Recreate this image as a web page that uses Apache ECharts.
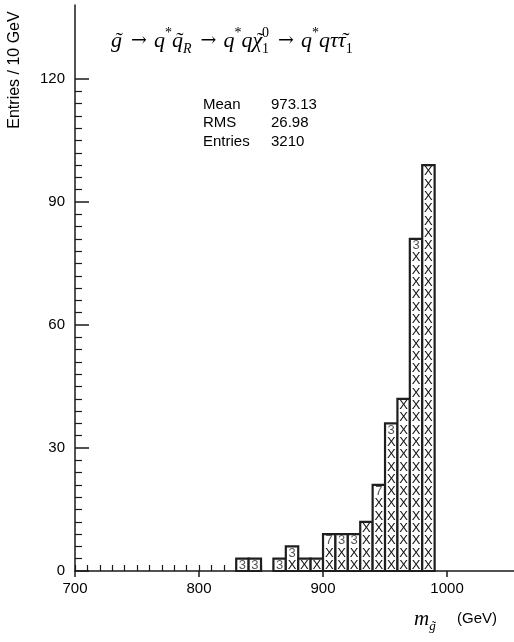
<!DOCTYPE html>
<html><head><meta charset="utf-8">
<script src="https://cdn.jsdelivr.net/npm/echarts@6/dist/echarts.min.js"></script>
<style>html,body{margin:0;padding:0;background:#fff}#c{width:514px;height:642px}</style>
</head><body><div id="c"></div>
<script>
// ---- data ----
const binStarts = [830, 840, 860, 870, 880, 890, 900, 910, 920, 930, 940, 950, 960, 970, 980];
const binWidth = 10;
const counts = [3, 3, 3, 6, 3, 3, 9, 9, 9, 12, 21, 36, 42, 81, 99];
const topMarks = ['3', '3', '3', '3', 'X', 'X', '7', '3', '3', 'X', '7', '3', 'X', '3', 'X'];
const cellUnit = 3;
const xMin = 700, xMax = 1054, xMajor = 100, xMinor = 10, xMinorEnd = 990;
const yMax = 120, yMajor = 30;
const statNames = ['Mean', 'RMS', 'Entries'];
const statValues = ['973.13', '26.98', '3210'];

// ---- layout ----
const W = 514, H = 642;
const gLeft = 75, gBottom = 71, gTopAxis = 5, gTopScale = 79;
const plotW = W - gLeft;
const minorRight = plotW * (xMax - xMinorEnd) / (xMax - xMin);
const SANS = 'Liberation Sans, Arial, sans-serif';
const SERIF = 'Liberation Serif, DejaVu Serif, serif';
const INK = '#1a1a1a';

const chart = echarts.init(document.getElementById('c'), null, {renderer: 'canvas'});

const data = binStarts.map((s, i) => [s, counts[i]]);

const statGraphics = [];
statNames.forEach((n, i) => {
  const y = 104.5 + i * 18.7;
  statGraphics.push({type: 'text', x: 203, y: y, style: {text: n, font: '15px ' + SANS, fill: '#000', verticalAlign: 'middle', align: 'left'}});
  statGraphics.push({type: 'text', x: 271, y: y, style: {text: statValues[i], font: '15px ' + SANS, fill: '#000', verticalAlign: 'middle', align: 'left'}});
});

const C = '#222';
const titleRich = {
  v: {fontFamily: SERIF, fontStyle: 'italic', fontSize: 22, lineHeight: 30, verticalAlign: 'middle', color: C},
  tl: {fontFamily: SERIF, fontSize: 22, lineHeight: 30, verticalAlign: 'middle', color: C, width: 0},
  ar: {fontFamily: 'DejaVu Serif, serif', fontSize: 19, lineHeight: 30, verticalAlign: 'middle', color: C, padding: [0, 7, 0, 9]},
  sp: {fontFamily: SERIF, fontSize: 14, lineHeight: 22, verticalAlign: 'top', color: C},
  sp0: {fontFamily: SERIF, fontSize: 14, lineHeight: 20, verticalAlign: 'top', color: C, width: 0},
  sb: {fontFamily: SERIF, fontStyle: 'italic', fontSize: 14, lineHeight: 14, verticalAlign: 'bottom', color: C},
  sbn: {fontFamily: SERIF, fontSize: 14, lineHeight: 14, verticalAlign: 'bottom', color: C}
};
const T = '{tl|\u2009\u02DC}';
const titleText = T + '{v|g}{ar|\u2192}{v|q}{sp|*}' + T + '{v|q}{sb|R}{ar|\u2192}{v|q}{sp|*}{v|q}' + T + '{v|\u03C7}{sp0|0}{sbn|1}{ar|\u2192}{v|q}{sp|*}{v|q\u03C4}' + T + '{v|\u03C4}{sbn|1}';

const option = {
  animation: false,
  backgroundColor: '#fff',
  grid: [
    {left: gLeft, right: 0, top: gTopAxis, bottom: gBottom},
    {left: gLeft, right: 0, top: gTopScale, bottom: gBottom},
    {left: gLeft, right: minorRight, top: gTopScale, bottom: gBottom}
  ],
  xAxis: [
    {gridIndex: 0, type: 'value', min: xMin, max: xMax, interval: xMajor,
     axisLine: {show: true, onZero: false, lineStyle: {color: INK, width: 1.5}},
     axisTick: {show: true, inside: false, length: 6, lineStyle: {color: INK, width: 1.5}},
     axisLabel: {show: true, margin: 10, fontFamily: SANS, fontSize: 15, color: '#000', showMaxLabel: false,
                 formatter: v => String(v)},
     splitLine: {show: false}},
    {gridIndex: 1, type: 'value', min: xMin, max: xMax, show: false},
    {gridIndex: 2, type: 'value', min: xMin, max: xMinorEnd, interval: xMinor,
     axisLine: {show: false, onZero: false},
     axisTick: {show: true, inside: true, length: 6, lineStyle: {color: INK, width: 1.2}},
     axisLabel: {show: false}, splitLine: {show: false}}
  ],
  yAxis: [
    {gridIndex: 0, type: 'value', min: 0, max: 1,
     axisLine: {show: true, onZero: false, lineStyle: {color: INK, width: 1.5}},
     axisTick: {show: false}, axisLabel: {show: false}, splitLine: {show: false}},
    {gridIndex: 1, type: 'value', min: 0, max: yMax, interval: yMajor,
     axisLine: {show: false, onZero: false},
     axisTick: {show: true, inside: true, length: 14, lineStyle: {color: INK, width: 1.5}},
     minorTick: {show: true, splitNumber: 10, length: 7, lineStyle: {color: INK, width: 1.2}},
     axisLabel: {show: true, margin: 10, fontFamily: SANS, fontSize: 15, color: '#000'},
     splitLine: {show: false}, minorSplitLine: {show: false}},
    {gridIndex: 2, type: 'value', min: 0, max: yMax, show: false}
  ],
  series: [{
    type: 'custom',
    xAxisIndex: 1, yAxisIndex: 1,
    data: data,
    z: 5,
    renderItem: function (params, api) {
      const s = api.value(0), v = api.value(1);
      const mark = topMarks[params.dataIndex];
      const p0 = api.coord([s, 0]);
      const p1 = api.coord([s + binWidth, v]);
      const children = [{
        type: 'rect',
        shape: {x: p0[0], y: p1[1], width: p1[0] - p0[0], height: p0[1] - p1[1]},
        style: {fill: '#fff', stroke: '#1e1e1e', lineWidth: 2.2}
      }];
      const n = Math.round(v / cellUnit);
      for (let k = 0; k < n; k++) {
        const c = api.coord([s + binWidth / 2, cellUnit * k + cellUnit / 2]);
        const txt = (k === n - 1) ? mark : 'X';
        children.push({
          type: 'text', x: c[0], y: c[1] + 0.5,
          style: {text: txt, font: '13px ' + SANS, fill: txt === 'X' ? '#111' : '#555',
                  align: 'center', verticalAlign: 'middle'}
        });
      }
      return {type: 'group', children: children};
    }
  }],
  graphic: [
    {type: 'text', x: 111, y: 41, style: {text: titleText, rich: titleRich, verticalAlign: 'middle', align: 'left'}},
    {type: 'text', x: 15, y: 70, rotation: Math.PI / 2,
     style: {text: 'Entries / 10 GeV', font: '16px ' + SANS, fill: '#000', align: 'center', verticalAlign: 'middle'}},
    {type: 'text', x: 414, y: 619,
     style: {text: '{m|m}' + '{tl|\u2009\u02DC}' + '{s|g}', verticalAlign: 'middle', align: 'left',
       rich: {
         m: {fontFamily: SERIF, fontStyle: 'italic', fontSize: 21, lineHeight: 28, verticalAlign: 'middle', color: C},
         tl: {fontFamily: SERIF, fontSize: 13, lineHeight: 20, verticalAlign: 'bottom', color: C, width: 0},
         s: {fontFamily: SERIF, fontStyle: 'italic', fontSize: 13, lineHeight: 14, verticalAlign: 'bottom', color: C}
       }}},
    {type: 'text', x: 457, y: 619,
     style: {text: '(GeV)', font: '15px ' + SANS, fill: '#000', align: 'left', verticalAlign: 'middle'}}
  ].concat(statGraphics)
};
chart.setOption(option);
</script>
</body></html>
